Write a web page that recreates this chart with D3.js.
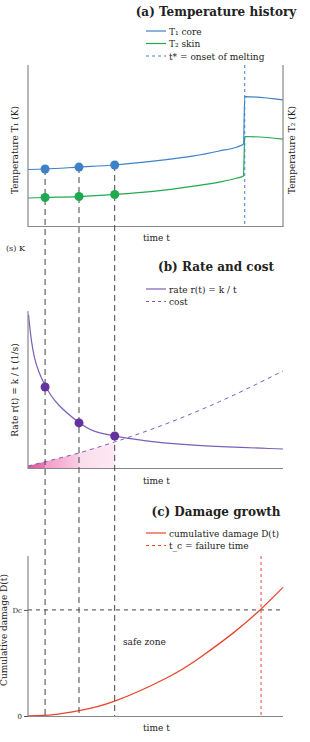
<!DOCTYPE html>
<html><head><meta charset="utf-8">
<script src="https://cdn.jsdelivr.net/npm/d3@7"></script>
<style>body{margin:0;background:#fff}svg{display:block}text{font-family:"DejaVu Serif","Liberation Serif",serif;fill:#222}</style>
</head><body><svg id="c" width="310" height="742"></svg>
<script>
// ---- data ----
const dotTimes = [0.67, 2.0, 3.4];
const topT = [0, 0.67, 2.0, 3.4, 5, 6.5, 7.5, 8.2, 8.45, 8.5, 10];
const seriesA = [35.1, 35.4, 36.6, 37.9, 40.4, 43.5, 46.6, 49.1, 50.9, 80.4, 78.3];
const seriesB = [17.4, 17.7, 18.3, 19.6, 21.7, 24.8, 27.3, 29.8, 31.1, 55.6, 54.0];
const jumpTime = 8.5;
const midT = [0.02, 0.2, 0.67, 1.14, 2.0, 2.55, 3.4, 4.78, 6.75, 10];
const rateVals = [97.5, 68.8, 51.6, 40.1, 28.7, 22.9, 20.4, 16.6, 14.0, 12.1];
const costT = [0, 0.67, 2.0, 3.4, 5, 7.5, 10];
const costVals = [1.3, 4.0, 9.6, 16.6, 25.6, 42.2, 61.8];
const botT = [0, 1.0, 2.0, 3.4, 5.45, 6.75, 8.04, 9.1, 10];
const damageVals = [0, 0.8, 3.3, 9.3, 23.9, 36.6, 51.8, 66.3, 80.4];
const failTime = 9.14;
const threshold = 66.3;
const titles = ["(a) Temperature history", "(b) Rate and cost", "(c) Damage growth"];
const legendTop = ["T\u2081  core", "T\u2082  skin", "t* = onset of melting"];
const legendMid = ["rate r(t) = k / t", "cost"];
const legendBot = ["cumulative damage D(t)", "t_c = failure time"];
const tickLabelsBot = ["Dc", "0"];

const svg = d3.select("#c");
const x = d3.scaleLinear().domain([0, 10]).range([28, 283]);
const C = {blue:"#3d82c8", green:"#1faa4f", purple:"#7a5fb8", dot:"#6331a0", red:"#e8452f", dash:"#444"};
const dashStyle = "6,4";

function legend(y0, items){
  items.forEach((it,i)=>{
    const yy = y0 + i*12.5;
    svg.append("line").attr("x1",146).attr("x2",166).attr("y1",yy).attr("y2",yy)
      .attr("stroke",it.c).attr("stroke-width",1.2).attr("stroke-dasharray",it.d||null);
    svg.append("text").attr("x",169).attr("y",yy+3.5).attr("font-size",9).text(it.t);
  });
}
function title(y, t){ svg.append("text").attr("x",216).attr("y",y).attr("text-anchor","middle").attr("font-size",12).attr("font-weight","bold").text(t); }
function ylabel(xp, yc, t){ svg.append("text").attr("transform",`translate(${xp},${yc}) rotate(-90)`).attr("text-anchor","middle").attr("font-size",9).text(t); }

// ---------- top panel ----------
const yTop = d3.scaleLinear().domain([0,100]).range([226,65]);
title(16, titles[0]);
legend(31, [{t:legendTop[0],c:C.blue},{t:legendTop[1],c:C.green},{t:legendTop[2],c:C.blue,d:"3,3"}]);
const ln = d3.line().curve(d3.curveMonotoneX);
svg.append("path").attr("d", ln(topT.map((t,i)=>[x(t), yTop(seriesA[i])]))).attr("fill","none").attr("stroke",C.blue).attr("stroke-width",1.2);
svg.append("path").attr("d", ln(topT.map((t,i)=>[x(t), yTop(seriesB[i])]))).attr("fill","none").attr("stroke",C.green).attr("stroke-width",1.2);
svg.append("line").attr("x1",x(jumpTime)).attr("x2",x(jumpTime)).attr("y1",65).attr("y2",226).attr("stroke",C.blue).attr("stroke-width",1).attr("stroke-dasharray","3,3");
svg.append("path").attr("d","M28,65V226.5H283V65").attr("fill","none").attr("stroke","#888").attr("stroke-width",1.2);
ylabel(18, 150, "Temperature T\u2081 (K)");
ylabel(295, 150, "Temperature T\u2082 (K)");
svg.append("text").attr("x",143).attr("y",241).attr("font-size",9).text("time t");
svg.append("text").attr("x",6).attr("y",251).attr("font-size",8).text("(s)  K");

// ---------- middle panel ----------
const yMid = d3.scaleLinear().domain([0,100]).range([468,311]);
title(271, titles[1]);
legend(289, [{t:legendMid[0],c:C.purple},{t:legendMid[1],c:C.purple,d:"3,3"}]);
const costLine = d3.scaleLinear().domain(costT).range(costVals);
const defs = svg.append("defs");
const segs = [[0,dotTimes[0],"#df559b","#e978b2"],[dotTimes[0],dotTimes[1],"#f29ac6","#f9cde4"],[dotTimes[1],dotTimes[2],"#fbdcec","#fde9f3"]];
segs.forEach((s,i)=>{
  const g = defs.append("linearGradient").attr("id","g"+i).attr("x1","0").attr("x2","1").attr("y1","0").attr("y2","0");
  g.append("stop").attr("offset","0").attr("stop-color",s[2]);
  g.append("stop").attr("offset","1").attr("stop-color",s[3]);
  const ts = d3.range(0,11).map(k=>s[0]+(s[1]-s[0])*k/10);
  const area = d3.area().x(t=>x(t)).y0(yMid(0)).y1(t=>yMid(costLine(t)));
  svg.append("path").attr("d",area(ts)).attr("fill",`url(#g${i})`);
});
svg.append("path").attr("d", ln(costT.map((t,i)=>[x(t), yMid(costVals[i])]))).attr("fill","none").attr("stroke",C.purple).attr("stroke-width",1).attr("stroke-dasharray","4,4");
svg.append("path").attr("d", d3.line().curve(d3.curveBasis)(midT.map((t,i)=>[x(t), yMid(rateVals[i])]))).attr("fill","none").attr("stroke",C.purple).attr("stroke-width",1.2);
svg.append("path").attr("d","M28,311V468.5H283").attr("fill","none").attr("stroke","#888").attr("stroke-width",1.2);
ylabel(18, 390, "Rate r(t) = k / t  (1/s)");
svg.append("text").attr("x",143).attr("y",484).attr("font-size",9).text("time t");

// ---------- bottom panel ----------
const yBot = d3.scaleLinear().domain([0,100]).range([716,556]);
title(516, titles[2]);
legend(533, [{t:legendBot[0],c:C.red},{t:legendBot[1],c:C.red,d:"3,3"}]);
svg.append("line").attr("x1",28).attr("x2",283).attr("y1",yBot(threshold)).attr("y2",yBot(threshold)).attr("stroke",C.dash).attr("stroke-width",1).attr("stroke-dasharray","4,4");
svg.append("line").attr("x1",x(failTime)).attr("x2",x(failTime)).attr("y1",556).attr("y2",716).attr("stroke",C.red).attr("stroke-width",1).attr("stroke-dasharray","3,3");
svg.append("path").attr("d", d3.line().curve(d3.curveNatural)(botT.map((t,i)=>[x(t), yBot(damageVals[i])]))).attr("fill","none").attr("stroke",C.red).attr("stroke-width",1.3);
svg.append("path").attr("d","M28,556V716.5H283").attr("fill","none").attr("stroke","#888").attr("stroke-width",1.2);
const yAx = d3.axisLeft(yBot).tickValues([threshold,0]).tickSize(4).tickPadding(2).tickFormat((d,i)=>tickLabelsBot[i]);
const ga = svg.append("g").attr("transform","translate(28,0)").call(yAx);
ga.select(".domain").remove();
ga.selectAll("line").attr("stroke","#555");
ga.selectAll("text").attr("font-size",7).attr("font-family","DejaVu Serif");
svg.append("text").attr("x",123).attr("y",645).attr("font-size",9).text("safe   zone");
ylabel(7, 630, "Cumulative damage D(t)");
svg.append("text").attr("x",143).attr("y",731).attr("font-size",9).text("time t");

// ---------- connecting dashed guides and dots ----------
dotTimes.forEach(t=>{
  const i = topT.indexOf(t);
  svg.append("line").attr("x1",x(t)).attr("x2",x(t)).attr("y1",yTop(seriesA[i])).attr("y2",716).attr("stroke",C.dash).attr("stroke-width",1).attr("stroke-dasharray",dashStyle);
});
dotTimes.forEach(t=>{
  const i = topT.indexOf(t);
  svg.append("circle").attr("cx",x(t)).attr("cy",yTop(seriesA[i])).attr("r",4.5).attr("fill",C.blue);
  svg.append("circle").attr("cx",x(t)).attr("cy",yTop(seriesB[i])).attr("r",4.5).attr("fill",C.green);
  const j = midT.indexOf(t);
  if(j>=0) svg.append("circle").attr("cx",x(t)).attr("cy",yMid(rateVals[j])).attr("r",4.5).attr("fill",C.dot);
});
</script></body></html>
